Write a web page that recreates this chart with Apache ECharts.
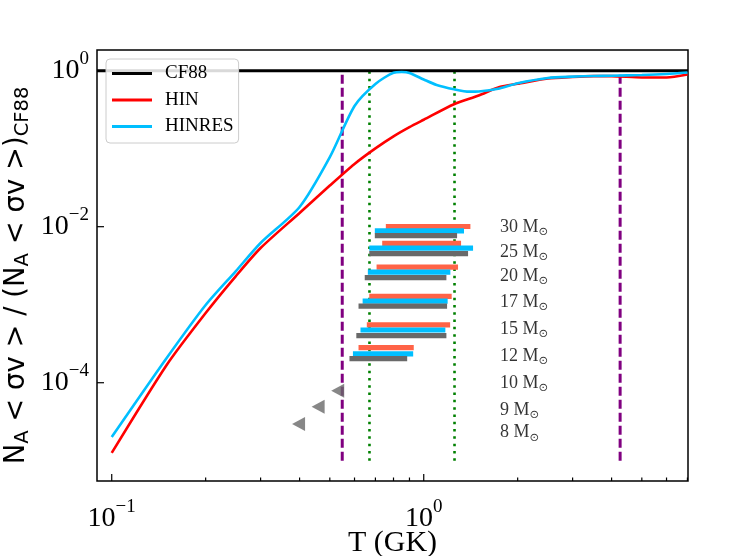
<!DOCTYPE html>
<html><head><meta charset="utf-8">
<script src="https://cdn.jsdelivr.net/npm/echarts@6/dist/echarts.min.js"></script>
<style>html,body{margin:0;padding:0;background:#fff}#c{width:746px;height:556px}</style>
</head><body><div id="c"></div><script>
// ---- axis ranges & ticks ----
const X_MIN = 0.0897, X_MAX = 7.03;
const Y_MIN = 5.5e-6, Y_MAX = 1.84;
const xMajorTicks = [0.1, 1];
const xMinorTicks = [0.2, 0.3, 0.4, 0.5, 0.6, 0.7, 0.8, 0.9, 2, 3, 4, 5, 6, 7];
const yMajorTicks = [1e-4, 1e-2, 1];

// ---- rate ratio curves ----
const tHin = [0.1, 0.15, 0.2, 0.25, 0.3, 0.4, 0.5, 0.6, 0.7, 0.8, 0.9, 1.0, 1.25, 1.5, 1.75, 2, 2.5, 3, 3.5, 4, 5, 6, 7];
const hin  = [1.26e-5, 1.69e-4, 7.83e-4, 2.33e-3, 5.33e-3, 0.015, 0.0337, 0.0638, 0.101, 0.144, 0.189, 0.235, 0.371, 0.481, 0.618, 0.68, 0.792, 0.83, 0.85, 0.85, 0.818, 0.818, 0.894];
const tHinres = [0.1, 0.15, 0.2, 0.25, 0.3, 0.4, 0.5, 0.6, 0.7, 0.8, 0.85, 0.9, 1.0, 1.1, 1.25, 1.4, 1.5, 1.75, 2, 2.5, 3, 3.5, 4, 5, 6, 7];
const hinres  = [2.01e-5, 2.07e-4, 9.9e-4, 2.7e-3, 6.18e-3, 0.0179, 0.078, 0.353, 0.676, 0.94, 0.96, 0.935, 0.771, 0.656, 0.578, 0.538, 0.541, 0.591, 0.69, 0.806, 0.838, 0.855, 0.86, 0.88, 0.907, 0.948];
const cf88T = [X_MIN, X_MAX];
const cf88 = [1, 1];

// ---- vertical temperature markers ----
const purpleT = [0.548, 4.26];
const greenT = [0.67, 1.255];
const vLineY = [1e-5, 1];

// ---- Gamow-window bars per stellar mass: [Tmin, Tmax, y] ----
const barMasses = ['30', '25', '20', '17', '15', '12'];
const barsHin = [[0.756, 1.411, 0.01006], [0.736, 1.317, 0.0061], [0.706, 1.288, 0.00303], [0.669, 1.229, 0.00128], [0.657, 1.215, 0.000552], [0.618, 0.929, 0.000281]];
const barsHinres = [[0.697, 1.346, 0.00885], [0.669, 1.439, 0.0053], [0.662, 1.217, 0.00261], [0.637, 1.193, 0.00111], [0.627, 1.173, 0.000474], [0.593, 0.925, 0.000235]];
const barsCf88 = [[0.697, 1.279, 0.00767], [0.669, 1.387, 0.00451], [0.647, 1.182, 0.00223], [0.618, 1.188, 0.000957], [0.608, 1.182, 0.000401], [0.578, 0.885, 0.000204]];

// ---- triangles (10, 9, 8 Msun) ----
const triT = [0.530, 0.4586, 0.397];
const triY = [7.87e-5, 4.92e-5, 2.95e-5];

// ---- mass labels ----
const massLabels = ['30', '25', '20', '17', '15', '12', '10', '9', '8'];
const massLabelY = [0.0099, 0.00467, 0.00233, 0.00107, 0.000488, 0.000221, 9.77e-5, 4.46e-5, 2.3e-5];
const LABEL_T = 1.75;

const SERIF = 'Liberation Serif';
const chart = echarts.init(document.getElementById('c'), null, {renderer: 'canvas'});

function isTick(v, arr) {
  return arr.some(t => Math.abs(Math.log10(v) - Math.log10(t)) < 1e-6);
}
function powLabel(v) {
  const e = Math.round(Math.log10(v));
  return '{b|10}{s|' + (e < 0 ? '\u2212' + (-e) : String(e)) + '}';
}
const labelRich = {
  b: {fontFamily: SERIF, fontSize: 28, lineHeight: 42, color: '#000'},
  s: {fontFamily: SERIF, fontSize: 19, lineHeight: 12, verticalAlign: 'top', color: '#000'}
};

function tickSeries(vals, len, isX) {
  return {
    type: 'custom', silent: true, z: 5,
    data: vals.map(v => isX ? [v, Y_MIN] : [X_MIN, v]),
    encode: {x: 0, y: 1},
    clip: false,
    renderItem: function (params, api) {
      const p = api.coord([api.value(0), api.value(1)]);
      return {
        type: 'line',
        shape: isX ? {x1: p[0], y1: p[1], x2: p[0], y2: p[1] - len} : {x1: p[0], y1: p[1], x2: p[0] + len, y2: p[1]},
        style: {stroke: '#000', lineWidth: 1.2}
      };
    }
  };
}
function barSeries(bars, color) {
  return {
    type: 'custom', silent: true, z: 3,
    data: bars,
    encode: {x: [0, 1], y: 2},
    renderItem: function (params, api) {
      const a = api.coord([api.value(0), api.value(2)]);
      const b = api.coord([api.value(1), api.value(2)]);
      return {type: 'rect', shape: {x: a[0], y: a[1] - 2.6, width: b[0] - a[0], height: 5.2}, style: {fill: color}};
    }
  };
}
function vLine(t, color, dash, width) {
  return {
    type: 'line', silent: true, z: 2, symbol: 'none',
    data: vLineY.map(y => [t, y]),
    lineStyle: {color: color, type: dash, width: width, cap: 'butt'}
  };
}

const series = [
  {name: 'CF88', type: 'line', symbol: 'none', z: 4, data: cf88T.map((t, i) => [t, cf88[i]]), lineStyle: {color: '#000', width: 3}, itemStyle: {color: '#000'}},
  {name: 'HIN', type: 'line', symbol: 'none', z: 4, smooth: 0.25, data: tHin.map((t, i) => [t, hin[i]]), lineStyle: {color: '#ff0000', width: 2.6}, itemStyle: {color: '#ff0000'}},
  {name: 'HINRES', type: 'line', symbol: 'none', z: 4, smooth: 0.25, data: tHinres.map((t, i) => [t, hinres[i]]), lineStyle: {color: '#00bfff', width: 2.6}, itemStyle: {color: '#00bfff'}},
];
purpleT.forEach(t => series.push(vLine(t, '#800080', [9, 4], 3)));
greenT.forEach(t => series.push(vLine(t, '#008000', [2.5, 4.8], 2.6)));
series.push(barSeries(barsHin, '#ff6347'));
series.push(barSeries(barsHinres, '#00bfff'));
series.push(barSeries(barsCf88, '#696969'));
series.push({
  type: 'scatter', silent: true, z: 6,
  symbol: 'path://M0,50 L100,0 L100,100 Z', symbolSize: [13, 14],
  data: triT.map((t, i) => [t, triY[i]]),
  itemStyle: {color: '#696969'}
});
series.push({
  type: 'scatter', silent: true, z: 6, symbolSize: 1,
  itemStyle: {color: 'transparent'},
  data: massLabelY.map((y, i) => ({value: [LABEL_T, y], name: massLabels[i]})),
  label: {
    show: true, position: 'right', distance: 0,
    formatter: p => '{a|' + p.name + ' M}{o|\u2299}',
    rich: {
      a: {fontFamily: SERIF, fontSize: 18, lineHeight: 22, color: '#000'},
      o: {fontFamily: 'DejaVu Sans', fontSize: 11.5, lineHeight: 12, verticalAlign: 'bottom', color: '#000'}
    }
  }
});
series.push(tickSeries(xMajorTicks, 7, true));
series.push(tickSeries(xMinorTicks, 3.5, true));
series.push(tickSeries(yMajorTicks, 7, false));

const option = {
  animation: false,
  backgroundColor: '#fff',
  grid: {left: 97, top: 50, width: 591, height: 431, show: true, borderColor: '#000', borderWidth: 1.5, backgroundColor: 'transparent', containLabel: false, outerBoundsMode: 'none'},
  legend: {
    data: ['CF88', 'HIN', 'HINRES'],
    orient: 'vertical', left: 106, top: 59,
    icon: 'rect', itemWidth: 40, itemHeight: 3, itemGap: 7.5,
    padding: [5, 5, 7, 6],
    backgroundColor: 'rgba(255,255,255,0.85)', borderColor: '#cccccc', borderWidth: 1, borderRadius: 4,
    textStyle: {fontFamily: SERIF, fontSize: 19, lineHeight: 19, color: '#000', padding: [0, 0, 0, 8]},
    z: 10
  },
  xAxis: {
    type: 'log', logBase: 10, min: X_MIN, max: X_MAX,
    name: 'T (GK)', nameLocation: 'middle', nameGap: 47, nameMoveOverlap: false,
    nameTextStyle: {fontFamily: SERIF, fontSize: 30, color: '#000'},
    axisLine: {show: false}, axisTick: {show: false}, splitLine: {show: false}, minorTick: {show: false},
    axisLabel: {
      margin: 17, showMinLabel: true, showMaxLabel: true,
      formatter: v => isTick(v, xMajorTicks) ? powLabel(v) : '',
      rich: labelRich
    }
  },
  yAxis: {
    type: 'log', logBase: 10, min: Y_MIN, max: Y_MAX,
    name: '{n|N}{s|A}{n| < σv > / (N}{s|A}{n| < σv >)}{s|CF88}{g|}',
    nameLocation: 'middle', nameGap: 64, nameRotate: 90, nameMoveOverlap: false,
    nameTextStyle: {
      rich: {
        n: {fontFamily: 'DejaVu Sans', fontSize: 27.5, lineHeight: 32, color: '#000'},
        s: {fontFamily: 'DejaVu Sans', fontSize: 19.5, lineHeight: 18, verticalAlign: 'bottom', color: '#000'},
        g: {width: 20, fontSize: 10, lineHeight: 10}
      }
    },
    axisLine: {show: false}, axisTick: {show: false}, splitLine: {show: false}, minorTick: {show: false},
    axisLabel: {
      margin: 8,
      formatter: v => isTick(v, yMajorTicks) ? powLabel(v) : '',
      rich: labelRich
    }
  },
  series: series
};
chart.setOption(option);
</script></body></html>
